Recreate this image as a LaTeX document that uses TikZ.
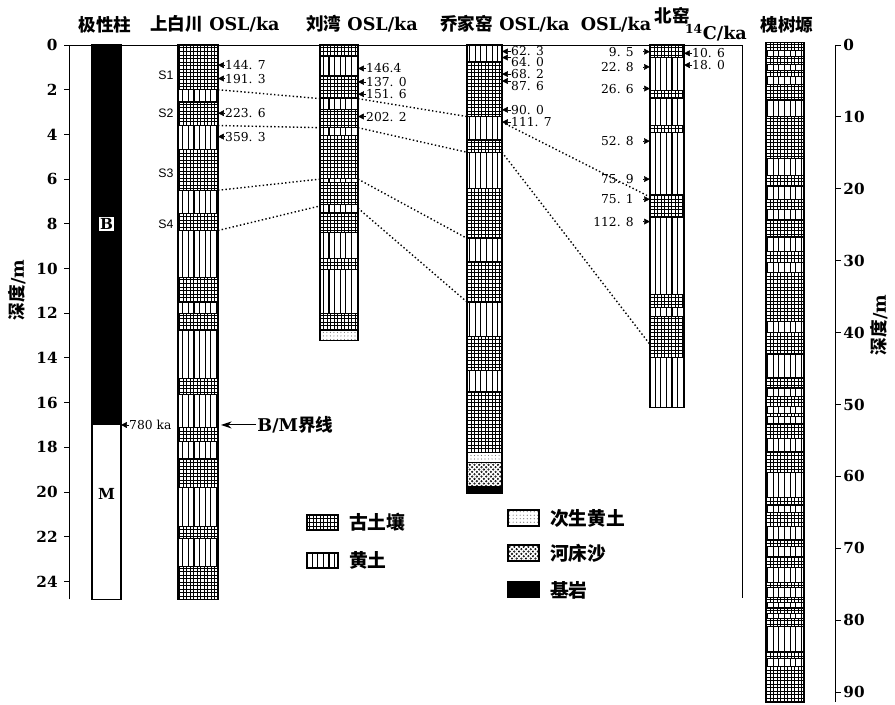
\documentclass[tikz,border=0pt]{standalone}
\usepackage{fontspec}
\setmainfont{DejaVu Serif}
\setsansfont{Liberation Sans}
\newfontfamily\cjk{Noto Sans CJK SC}
\usetikzlibrary{patterns}
\usetikzlibrary{arrows.meta}

\pgfdeclarepatternformonly{loess}{\pgfqpoint{-1pt}{-1pt}}{\pgfqpoint{5.8pt}{5.8pt}}{\pgfqpoint{4.8pt}{4.8pt}}%
{\pgfsetlinewidth{0.9pt}\pgfpathmoveto{\pgfqpoint{2.4pt}{-0.5pt}}\pgfpathlineto{\pgfqpoint{2.4pt}{5.3pt}}\pgfusepath{stroke}}
\pgfdeclarepatternformonly{sand}{\pgfqpoint{-1pt}{-1pt}}{\pgfqpoint{5pt}{5pt}}{\pgfqpoint{4pt}{4pt}}%
{\pgfsetlinewidth{0.4pt}\pgfpathcircle{\pgfqpoint{1pt}{1pt}}{0.7pt}\pgfpathcircle{\pgfqpoint{3pt}{3pt}}{0.7pt}\pgfusepath{stroke}}

\tikzset{
  paleo/.style={draw=black,line width=0.9pt,pattern=grid},
  loesslayer/.style={draw=black,line width=0.9pt,pattern=loess},
  redep/.style={draw=black,line width=0.9pt,pattern=dots,pattern color=black!55},
  sandlayer/.style={draw=black,line width=0.9pt,pattern=sand},
  rock/.style={draw=black,line width=0.9pt,fill=black},
  head/.style={font=\bfseries\fontsize{15}{17}\selectfont,inner sep=0pt,anchor=base},
  age/.style={font=\fontsize{10.5}{11}\selectfont,inner sep=0pt},
  tip/.style={-{Triangle[length=5pt,width=5pt]},line width=0.4pt},
  corr/.style={dotted,line width=1.2pt},
  axtick/.style={line width=0.8pt},
  ticklab/.style={font=\bfseries\fontsize{13}{13}\selectfont,inner sep=1pt},
  slab/.style={font=\sffamily\fontsize{10.5}{11}\selectfont},
  legtext/.style={font=\cjk\bfseries\fontsize{16}{16}\selectfont,anchor=west}
}

\begin{document}
\begin{tikzpicture}[x=0.03cm,y=-0.03cm]
\useasboundingbox (0,0) rectangle (895,705);

\node[head] (hpol) at (105,32) {\cjk 极性柱};
\node[head] (hsb) at (215,31) {{\cjk 上白川} OSL/ka};
\node[head] (hlw) at (362,31) {{\cjk 刘湾} OSL/ka};
\node[head] (hqj) at (505,31) {{\cjk 乔家窑} OSL/ka};
\node[head] (hby) at (616,31) {OSL/ka};
\node[head] (hbyn) at (672,23) {\cjk 北窑};
\node[head] (hc14) at (716,40) {\textsuperscript{14}C/ka};
\node[head] (hhs) at (787,32) {\cjk 槐树塬};
\node[rotate=90,font=\bfseries\fontsize{15}{15}\selectfont] (ylab) at (17,290) {{\cjk 深度}/m};
\node[rotate=90,font=\bfseries\fontsize{15}{15}\selectfont] (ylabr) at (879,325) {{\cjk 深度}/m};

\begin{scope}[shift={(0,45)},y=-0.6705cm]
\draw[line width=0.8pt] (69,24.8) -- (69,0) -- (742,0) -- (742,24.75);
\draw[axtick] (64,0) -- (69,0);
\node[ticklab,anchor=east] (l0) at (59,0) {0};
\draw[axtick] (64,2) -- (69,2);
\node[ticklab,anchor=east] (l2) at (59,2) {2};
\draw[axtick] (64,4) -- (69,4);
\node[ticklab,anchor=east] (l4) at (59,4) {4};
\draw[axtick] (64,6) -- (69,6);
\node[ticklab,anchor=east] (l6) at (59,6) {6};
\draw[axtick] (64,8) -- (69,8);
\node[ticklab,anchor=east] (l8) at (59,8) {8};
\draw[axtick] (64,10) -- (69,10);
\node[ticklab,anchor=east] (l10) at (59,10) {10};
\draw[axtick] (64,12) -- (69,12);
\node[ticklab,anchor=east] (l12) at (59,12) {12};
\draw[axtick] (64,14) -- (69,14);
\node[ticklab,anchor=east] (l14) at (59,14) {14};
\draw[axtick] (64,16) -- (69,16);
\node[ticklab,anchor=east] (l16) at (59,16) {16};
\draw[axtick] (64,18) -- (69,18);
\node[ticklab,anchor=east] (l18) at (59,18) {18};
\draw[axtick] (64,20) -- (69,20);
\node[ticklab,anchor=east] (l20) at (59,20) {20};
\draw[axtick] (64,22) -- (69,22);
\node[ticklab,anchor=east] (l22) at (59,22) {22};
\draw[axtick] (64,24) -- (69,24);
\node[ticklab,anchor=east] (l24) at (59,24) {24};

% polarity
\draw[rock] (92,0) rectangle (121,17);
\draw[draw=black,line width=0.9pt,fill=white] (92,17) rectangle (121,24.8);
\node[draw,fill=white,inner sep=1.5pt,font=\bfseries\fontsize{13}{13}\selectfont] (bnode) at (106.5,8.0) {B};
\node[font=\bfseries\fontsize{13}{13}\selectfont] (mnode) at (106.5,20.1) {M};
\node[age,anchor=west] (pol780) at (129,17) {780 ka};
\draw[tip] (pol780.west) -- ++(-8,0);

% shangbaichuan
\draw[paleo] (178,0) rectangle (218,2.0);
\draw[loesslayer] (178,2.0) rectangle (218,2.55);
\draw[paleo] (178,2.55) rectangle (218,3.6);
\draw[loesslayer] (178,3.6) rectangle (218,4.67);
\draw[paleo] (178,4.67) rectangle (218,6.5);
\draw[loesslayer] (178,6.5) rectangle (218,7.55);
\draw[paleo] (178,7.55) rectangle (218,8.3);
\draw[loesslayer] (178,8.3) rectangle (218,10.4);
\draw[paleo] (178,10.4) rectangle (218,11.5);
\draw[loesslayer] (178,11.5) rectangle (218,12.0);
\draw[paleo] (178,12.0) rectangle (218,12.75);
\draw[loesslayer] (178,12.75) rectangle (218,14.9);
\draw[paleo] (178,14.9) rectangle (218,15.65);
\draw[loesslayer] (178,15.65) rectangle (218,17.1);
\draw[paleo] (178,17.1) rectangle (218,17.75);
\draw[loesslayer] (178,17.75) rectangle (218,18.5);
\draw[paleo] (178,18.5) rectangle (218,19.8);
\draw[loesslayer] (178,19.8) rectangle (218,21.55);
\draw[paleo] (178,21.55) rectangle (218,22.1);
\draw[loesslayer] (178,22.1) rectangle (218,23.35);
\draw[paleo] (178,23.35) rectangle (218,24.8);
\node[slab] (s1) at (166,1.35) {S1};
\node[slab] (s2) at (166,3.05) {S2};
\node[slab] (s3) at (166,5.75) {S3};
\node[slab] (s4) at (166,8.0) {S4};
\node[age,anchor=west] (sb1) at (225,0.9) {144. 7};
\draw[tip] (sb1.west) -- ++(-7,0);
\node[age,anchor=west] (sb2) at (225,1.5) {191. 3};
\draw[tip] (sb2.west) -- ++(-7,0);
\node[age,anchor=west] (sb3) at (225,3.05) {223. 6};
\draw[tip] (sb3.west) -- ++(-7,0);
\node[age,anchor=west] (sb4) at (225,4.1) {359. 3};
\draw[tip] (sb4.west) -- ++(-7,0);
\node[font=\bfseries\fontsize{15}{15}\selectfont,anchor=west,inner sep=1pt] (bmline) at (256,17) {B/M{\cjk 界线}};
\draw[-{Stealth[length=9pt,width=6pt]},line width=0.9pt] (bmline.west) -- ++(-35,0);

% liuwan
\draw[paleo] (320,0) rectangle (358,0.5);
\draw[loesslayer] (320,0.5) rectangle (358,1.35);
\draw[paleo] (320,1.35) rectangle (358,2.4);
\draw[loesslayer] (320,2.4) rectangle (358,2.9);
\draw[paleo] (320,2.9) rectangle (358,3.7);
\draw[loesslayer] (320,3.7) rectangle (358,4.07);
\draw[paleo] (320,4.07) rectangle (358,5.97);
\draw[loesslayer] (320,5.97) rectangle (358,6.15);
\draw[paleo] (320,6.15) rectangle (358,7.15);
\draw[loesslayer] (320,7.15) rectangle (358,7.5);
\draw[paleo] (320,7.5) rectangle (358,8.4);
\draw[loesslayer] (320,8.4) rectangle (358,9.55);
\draw[paleo] (320,9.55) rectangle (358,10.05);
\draw[loesslayer] (320,10.05) rectangle (358,12.0);
\draw[paleo] (320,12.0) rectangle (358,12.75);
\draw[redep] (320,12.75) rectangle (358,13.2);
\node[age,anchor=west] (lw1) at (366,1.05) {146.4};
\draw[tip] (lw1.west) -- ++(-8,0);
\node[age,anchor=west] (lw2) at (366,1.65) {137. 0};
\draw[tip] (lw2.west) -- ++(-8,0);
\node[age,anchor=west] (lw3) at (366,2.2) {151. 6};
\draw[tip] (lw3.west) -- ++(-8,0);
\node[age,anchor=west] (lw4) at (366,3.2) {202. 2};
\draw[tip] (lw4.west) -- ++(-8,0);

% qiaojiayao
\draw[loesslayer] (467,0) rectangle (502,0.75);
\draw[paleo] (467,0.75) rectangle (502,3.2);
\draw[loesslayer] (467,3.2) rectangle (502,4.25);
\draw[paleo] (467,4.25) rectangle (502,4.8);
\draw[loesslayer] (467,4.8) rectangle (502,6.4);
\draw[paleo] (467,6.4) rectangle (502,8.65);
\draw[loesslayer] (467,8.65) rectangle (502,9.7);
\draw[paleo] (467,9.7) rectangle (502,11.5);
\draw[loesslayer] (467,11.5) rectangle (502,13.05);
\draw[paleo] (467,13.05) rectangle (502,14.55);
\draw[loesslayer] (467,14.55) rectangle (502,15.5);
\draw[paleo] (467,15.5) rectangle (502,18.25);
\draw[redep] (467,18.25) rectangle (502,18.7);
\draw[sandlayer] (467,18.7) rectangle (502,19.75);
\draw[rock] (467,19.75) rectangle (502,20.05);
\node[age,anchor=west] (qj1) at (511,0.29) {62. 3};
\draw[tip] (qj1.west) -- ++(-9,0);
\node[age,anchor=west] (qj2) at (511,0.78) {64. 0};
\draw[tip] (qj2.north west) -- ++(-9,0);
\node[age,anchor=west] (qj3) at (511,1.3) {68. 2};
\draw[tip] (qj3.west) -- ++(-9,0);
\node[age,anchor=west] (qj4) at (511,1.83) {87. 6};
\draw[tip] (qj4.north west) -- ++(-9,0);
\node[age,anchor=west] (qj5) at (511,2.9) {90. 0};
\draw[tip] (qj5.west) -- ++(-9,0);
\node[age,anchor=west] (qj6) at (511,3.45) {111. 7};
\draw[tip] (qj6.west) -- ++(-9,0);

% beiyao
\draw[paleo] (650,0) rectangle (684,0.55);
\draw[loesslayer] (650,0.55) rectangle (684,2.05);
\draw[paleo] (650,2.05) rectangle (684,2.4);
\draw[loesslayer] (650,2.4) rectangle (684,3.6);
\draw[paleo] (650,3.6) rectangle (684,3.9);
\draw[loesslayer] (650,3.9) rectangle (684,6.7);
\draw[paleo] (650,6.7) rectangle (684,7.7);
\draw[loesslayer] (650,7.7) rectangle (684,11.15);
\draw[paleo] (650,11.15) rectangle (684,11.75);
\draw[loesslayer] (650,11.75) rectangle (684,12.15);
\draw[paleo] (650,12.15) rectangle (684,14.0);
\draw[loesslayer] (650,14.0) rectangle (684,16.2);
\node[age,anchor=east] (by1) at (634,0.3) {9. 5};
\draw[tip] ([xshift=8pt]by1.east) -- ++(6.5,0);
\node[age,anchor=east] (by2) at (634,0.98) {22. 8};
\draw[tip] ([xshift=8pt]by2.east) -- ++(6.5,0);
\node[age,anchor=east] (by3) at (634,1.95) {26. 6};
\draw[tip] ([xshift=8pt]by3.east) -- ++(6.5,0);
\node[age,anchor=east] (by4) at (634,4.3) {52. 8};
\draw[tip] ([xshift=8pt]by4.east) -- ++(6.5,0);
\node[age,anchor=east] (by5) at (634,6.0) {75. 9};
\draw[tip] ([xshift=8pt]by5.east) -- ++(6.5,0);
\node[age,anchor=east] (by6) at (634,6.9) {75. 1};
\draw[tip] ([xshift=8pt]by6.east) -- ++(6.5,0);
\node[age,anchor=east] (by7) at (634,7.9) {112. 8};
\draw[tip] ([xshift=8pt]by7.east) -- ++(6.5,0);
\node[age,anchor=west] (bc1) at (692,0.37) {10. 6};
\draw[tip] (bc1.west) -- ++(-8,0);
\node[age,anchor=west] (bc2) at (692,0.9) {18. 0};
\draw[tip] (bc2.west) -- ++(-8,0);

% correlation
\draw[corr] (218,2.0) -- (320,2.4);
\draw[corr] (358,2.4) -- (467,3.2);
\draw[corr] (218,3.6) -- (320,3.7);
\draw[corr] (358,3.7) -- (467,4.8);
\draw[corr] (218,6.5) -- (320,6.0);
\draw[corr] (358,6.0) -- (467,8.65);
\draw[corr] (218,8.3) -- (320,7.2);
\draw[corr] (358,7.3) -- (467,11.5);
\draw[corr] (502,3.45) -- (650,6.8);
\draw[corr] (502,4.8) -- (650,13.4);
\end{scope}

\begin{scope}[shift={(0,45)},y=-0.2157cm]
\draw[line width=0.8pt] (835,0) -- (835,91.4);
\draw[axtick] (835,0) -- (841,0);
\node[ticklab,anchor=west] (r0) at (842,0) {0};
\draw[axtick] (835,10) -- (841,10);
\node[ticklab,anchor=west] (r10) at (842,10) {10};
\draw[axtick] (835,20) -- (841,20);
\node[ticklab,anchor=west] (r20) at (842,20) {20};
\draw[axtick] (835,30) -- (841,30);
\node[ticklab,anchor=west] (r30) at (842,30) {30};
\draw[axtick] (835,40) -- (841,40);
\node[ticklab,anchor=west] (r40) at (842,40) {40};
\draw[axtick] (835,50) -- (841,50);
\node[ticklab,anchor=west] (r50) at (842,50) {50};
\draw[axtick] (835,60) -- (841,60);
\node[ticklab,anchor=west] (r60) at (842,60) {60};
\draw[axtick] (835,70) -- (841,70);
\node[ticklab,anchor=west] (r70) at (842,70) {70};
\draw[axtick] (835,80) -- (841,80);
\node[ticklab,anchor=west] (r80) at (842,80) {80};
\draw[axtick] (835,90) -- (841,90);
\node[ticklab,anchor=west] (r90) at (842,90) {90};

% huaishuyuan
\draw[paleo] (766,-0.4) rectangle (804,0.7);
\draw[loesslayer] (766,0.7) rectangle (804,1.6);
\draw[paleo] (766,1.6) rectangle (804,2.7);
\draw[loesslayer] (766,2.7) rectangle (804,3.6);
\draw[paleo] (766,3.6) rectangle (804,4.4);
\draw[loesslayer] (766,4.4) rectangle (804,5.5);
\draw[paleo] (766,5.5) rectangle (804,7.65);
\draw[loesslayer] (766,7.65) rectangle (804,10.0);
\draw[paleo] (766,10.0) rectangle (804,15.75);
\draw[loesslayer] (766,15.75) rectangle (804,18.1);
\draw[paleo] (766,18.1) rectangle (804,19.7);
\draw[loesslayer] (766,19.7) rectangle (804,21.5);
\draw[paleo] (766,21.5) rectangle (804,22.9);
\draw[loesslayer] (766,22.9) rectangle (804,24.3);
\draw[paleo] (766,24.3) rectangle (804,26.7);
\draw[loesslayer] (766,26.7) rectangle (804,28.7);
\draw[paleo] (766,28.7) rectangle (804,30.2);
\draw[loesslayer] (766,30.2) rectangle (804,31.6);
\draw[paleo] (766,31.6) rectangle (804,38.5);
\draw[loesslayer] (766,38.5) rectangle (804,40.0);
\draw[paleo] (766,40.0) rectangle (804,43.1);
\draw[loesslayer] (766,43.1) rectangle (804,46.2);
\draw[paleo] (766,46.2) rectangle (804,47.7);
\draw[loesslayer] (766,47.7) rectangle (804,48.9);
\draw[paleo] (766,48.9) rectangle (804,50.3);
\draw[loesslayer] (766,50.3) rectangle (804,51.2);
\draw[paleo] (766,51.2) rectangle (804,51.7);
\draw[loesslayer] (766,51.7) rectangle (804,52.6);
\draw[paleo] (766,52.6) rectangle (804,54.7);
\draw[loesslayer] (766,54.7) rectangle (804,56.6);
\draw[paleo] (766,56.6) rectangle (804,59.4);
\draw[loesslayer] (766,59.4) rectangle (804,62.9);
\draw[paleo] (766,62.9) rectangle (804,64.0);
\draw[loesslayer] (766,64.0) rectangle (804,65.0);
\draw[paleo] (766,65.0) rectangle (804,67.0);
\draw[loesslayer] (766,67.0) rectangle (804,68.8);
\draw[paleo] (766,68.8) rectangle (804,69.8);
\draw[loesslayer] (766,69.8) rectangle (804,71.2);
\draw[paleo] (766,71.2) rectangle (804,72.7);
\draw[loesslayer] (766,72.7) rectangle (804,74.7);
\draw[paleo] (766,74.7) rectangle (804,75.5);
\draw[loesslayer] (766,75.5) rectangle (804,76.8);
\draw[paleo] (766,76.8) rectangle (804,77.5);
\draw[loesslayer] (766,77.5) rectangle (804,78.3);
\draw[paleo] (766,78.3) rectangle (804,79.0);
\draw[loesslayer] (766,79.0) rectangle (804,79.7);
\draw[paleo] (766,79.7) rectangle (804,80.9);
\draw[loesslayer] (766,80.9) rectangle (804,84.4);
\draw[paleo] (766,84.4) rectangle (804,85.3);
\draw[loesslayer] (766,85.3) rectangle (804,86.5);
\draw[paleo] (766,86.5) rectangle (804,91.4);
\end{scope}

% legend
\draw[paleo] (307,515) rectangle (338,530);
\node[legtext] (lgpaleo) at (345,522) {古土壤};
\draw[loesslayer] (307,553) rectangle (338,568);
\node[legtext] (lgloess) at (345,560) {黄土};
\draw[redep] (508,510) rectangle (539,526);
\node[legtext] (lgredep) at (546,518) {次生黄土};
\draw[sandlayer] (508,545) rectangle (539,561);
\node[legtext] (lgsand) at (546,553) {河床沙};
\draw[rock] (508,582) rectangle (539,597);
\node[legtext] (lgrock) at (546,590) {基岩};

\end{tikzpicture}
\end{document}
